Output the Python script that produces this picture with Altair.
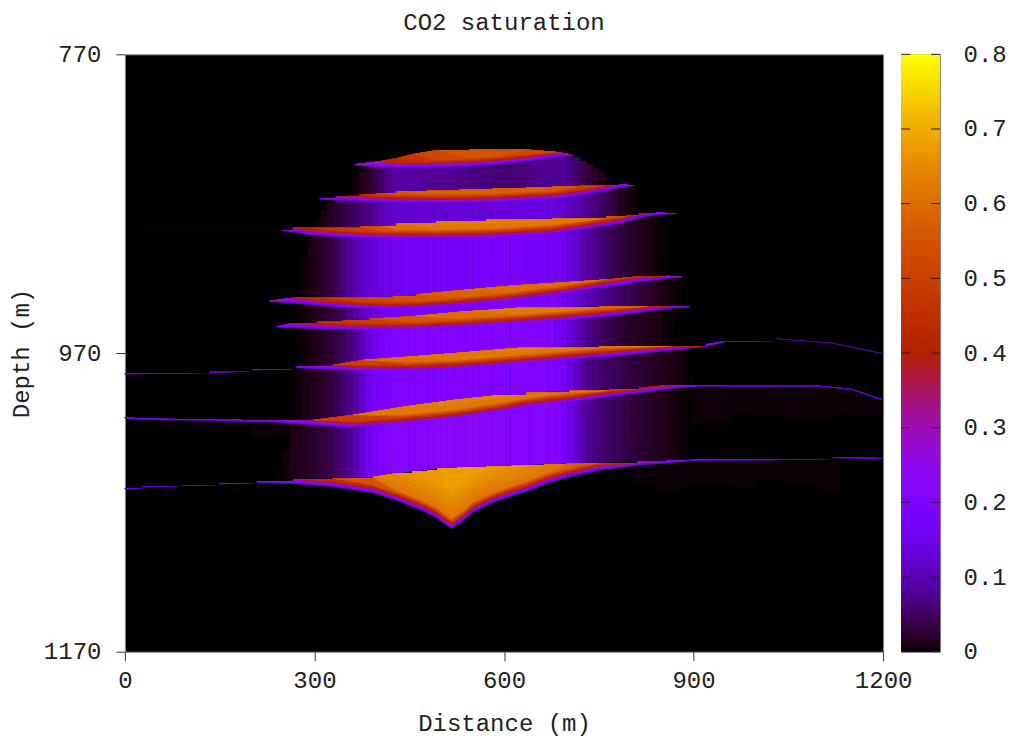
import numpy as np
import pandas as pd
import altair as alt

FONT = "Liberation Mono"
FS = 24
TXT = "#222222"

SAT_STOPS = [0, .008, .02, .04, .08, .12, .16, .2, .24, .28, .32, .36, .4, .48, .56, .64, .72, .8]
SAT_COLORS = ["#000000", "#1A0010", "#280028", "#39004F", "#510096", "#6301CE", "#7202F3", "#8004FF",
              "#8C07F3", "#970BCE", "#A11096", "#AB174F", "#B42000", "#C63700", "#D55700", "#E48300",
              "#F2BA00", "#FFFF00"]

# Each sheet of CO2: distance, top depth, bottom depth, peak saturation
L1 = dict(x=[364, 403, 430, 455, 493, 545, 593, 640, 688, 708],
          top=[843.6, 841.6, 839.6, 836.9, 834.2, 833.9, 833.6, 833.9, 835.6, 837.2],
          bot=[844.3, 845.9, 846.3, 846.3, 845.9, 845.3, 843.9, 841.9, 838.9, 837.6],
          peak=[.26, .3, .42, .47, .52, .55, .55, .52, .4, .25])
L2 = dict(x=[308, 335, 372, 398, 430, 477, 530, 582, 636, 677, 719, 762, 783, 806],
          top=[866.5, 864.8, 863.7, 863, 861.9, 861.3, 860.3, 859.8, 859, 858.3, 858, 857.6, 857.2, 857.6],
          bot=[867, 868, 868.8, 869.3, 869.7, 869.9, 869.9, 869.5, 868.3, 867.5, 865, 861.7, 859.6, 858],
          peak=[.25, .3, .38, .48, .55, .58, .58, .58, .58, .57, .5, .42, .3, .25])
L3 = dict(x=[250, 266, 292, 335, 372, 403, 430, 493, 572, 677, 762, 794, 814, 841, 873],
          top=[887.7, 886.2, 886.2, 886.2, 885.4, 884.9, 883.3, 881.7, 880.6, 879.7, 878.8, 877.7, 876.6, 875.9, 876.6],
          bot=[888.2, 889.1, 891.1, 892.4, 893.3, 893.8, 893.9, 894.1, 893.6, 891, 885.4, 882.2, 879.7, 877.4, 876.9],
          peak=[.25, .3, .4, .47, .5, .55, .6, .63, .66, .66, .58, .5, .4, .3, .25])
L4 = dict(x=[229, 266, 319, 372, 424, 462, 530, 604, 683, 762, 819, 857, 881],
          top=[935, 933, 933, 933, 931.9, 930.6, 927.9, 925.1, 923, 920.7, 918.5, 918.3, 919],
          bot=[935.6, 936.9, 939, 940.6, 941.3, 940.9, 939, 936.2, 931.9, 926.2, 922.3, 920.2, 919.3],
          peak=[.25, .3, .43, .5, .53, .55, .58, .6, .6, .58, .45, .3, .25])
L5 = dict(x=[240, 261, 304, 345, 387, 455, 530, 624, 688, 751, 830, 862, 893],
          top=[952.3, 950.2, 949.1, 948, 947.1, 945.3, 942.4, 939.7, 939.3, 938.9, 938.6, 938.6, 939.1],
          bot=[952.6, 953.4, 954, 954.6, 955.1, 955, 953.6, 951, 949, 946.6, 942.3, 940.3, 939.3],
          peak=[.25, .3, .42, .47, .5, .55, .6, .63, .63, .6, .45, .3, .25])
L6 = dict(x=[0, 134, 202, 272, 329, 376, 446, 519, 625, 751, 866, 920, 952, 1031, 1119, 1198],
          top=[983.6, 982.5, 980.9, 979.2, 978.1, 974.7, 972.5, 970.2, 966.5, 965.3, 965.3, 964.2, 962, 960.2, 963.1, 970],
          bot=[984.4, 983.4, 981.7, 980.1, 981.4, 982.7, 982.7, 981.7, 978.1, 973.4, 968.4, 965.7, 962.7, 960.8, 963.7, 970.7],
          peak=[.18, .18, .2, .25, .3, .5, .6, .62, .65, .62, .45, .3, .15, .1, .1, .1])
L7 = dict(x=[0, 35, 139, 240, 297, 360, 440, 519, 593, 636, 704, 767, 814, 862, 909, 961, 1099, 1151, 1198],
          top=[1013, 1014, 1014.4, 1015.3, 1014.9, 1011.5, 1006, 1001.5, 998.1, 996.6, 995.3, 994.1, 993.2, 991.4, 991.6, 991.9, 991.9, 994.1, 1001],
          bot=[1013.8, 1014.9, 1015.4, 1016.5, 1018.5, 1020.5, 1018.2, 1014.9, 1010.2, 1006.8, 1003.5, 999.8, 996.8, 994.1, 992.4, 992.5, 992.5, 994.8, 1001.7],
          peak=[.22, .22, .22, .25, .32, .5, .62, .68, .68, .66, .62, .55, .5, .42, .25, .2, .18, .18, .18])
L8 = dict(x=[0, 28, 90, 150, 209, 266, 329, 392, 430, 455, 479, 495, 507, 517, 526, 535, 550, 572, 588, 612, 636, 664, 699, 719, 751, 811, 857, 893, 1015, 1119, 1198],
          top=[1060.6, 1059, 1058.3, 1057.2, 1055.7, 1054.5, 1053.9, 1053, 1050.5, 1049.4, 1048.3, 1047.2, 1047, 1047, 1046.9, 1046.7, 1046.5, 1046.2, 1045.8, 1045.4, 1045, 1044.5, 1044.1, 1043.8, 1043.6, 1042.3, 1041.8, 1041.1, 1041.1, 1039.8, 1040.3],
          bot=[1061.3, 1059.7, 1059, 1058, 1057, 1057.7, 1059.7, 1063.7, 1069, 1073, 1077.4, 1081, 1085, 1087.8, 1085, 1082.8, 1077, 1072.4, 1069.5, 1066, 1062.8, 1058, 1053.6, 1051.7, 1048.6, 1045.3, 1044, 1042.3, 1042, 1040.5, 1041],
          peak=[.2, .2, .2, .22, .25, .3, .45, .55, .64, .66, .67, .67, .68, .68, .68, .68, .68, .68, .67, .66, .64, .62, .58, .56, .5, .42, .3, .22, .18, .18, .18])
LAYERS = [L1, L2, L3, L4, L5, L6, L7, L8]

# Vertical saturation seen going up from a sheet's lower edge (metres above edge, saturation)
EDGE_U = [0, .5, 1.2, 2.4, 3.6, 7, 25]
EDGE_S = [.04, .12, .2, .3, .42, .62, .68]
LEVELS = [round(.06 + .01 * i, 2) for i in range(64)]
STEP_MAX = 1.8  # largest rise of a sheet's top drawn as a stair

# Outline of the plume's diffuse cloud (distance, depth at which it starts)
ENV_X = [253, 274, 281, 292, 308, 335, 383, 708, 814, 846, 870, 893, 901]
ENV_D = [1048, 934.6, 914.5, 891, 877.7, 864.3, 844.2, 837.6, 861, 874.4, 894.4, 964.7, 1048.3]

# Diffuse saturation between sheets, by 10 m column from 240 m
HAZE_X = list(range(240, 900, 10))
H1 = [0, 0, 0, 0, 0, 0, 0, 0, 0, 0, 0, 0, .005, .012, .02, .035, .05, .07, .09, .09,
      .09, .09, .085, .085, .08, .08, .08, .08, .075, .075, .07, .07, .065, .065, .06, .06, .06, .06, .065, .065, .075, .075, .08, .08,
      .08, .08, .07, .055, .04, .03, .02, .012, .005, .001, 0, 0, 0, 0, 0, 0, 0, 0, 0, 0, 0, 0]
H2 = [0, 0, 0, 0, 0, .001, .004, .009, .015, .022, .03, .04, .05, .06, .07, .085, .1, .11, .12, .12,
      .12, .12, .12, .12, .125, .125, .125, .125, .13, .13, .13, .13, .13, .13, .135, .135, .135, .135, .14, .14, .14, .14, .14, .14,
      .13, .12, .11, .1, .09, .078, .065, .052, .04, .027, .015, .009, .004, .001, 0, 0, 0, 0, 0, 0, 0, 0]
H3 = [0, 0, 0, .002, .004, .009, .015, .022, .03, .045, .06, .08, .1, .11, .125, .135, .145, .15, .155, .16,
      .165, .165, .165, .165, .175, .175, .175, .175, .18, .18, .185, .185, .185, .185, .185, .185, .185, .185, .185, .18, .18, .18, .18, .18,
      .165, .15, .135, .12, .1, .09, .075, .062, .05, .04, .032, .025, .02, .015, .01, .007, .004, .002, 0, 0, 0, 0]
H4 = [0, 0, .001, .003, .005, .01, .015, .022, .03, .04, .05, .07, .09, .11, .13, .145, .16, .17, .18, .18,
      .18, .18, .18, .185, .185, .185, .19, .19, .19, .19, .19, .19, .19, .19, .19, .19, .19, .19, .19, .19, .19, .19, .19, .19,
      .17, .155, .14, .125, .11, .1, .09, .08, .07, .062, .055, .047, .04, .032, .025, .02, .015, .01, .006, .003, 0, 0]
H5 = [0, 0, .001, .002, .004, .008, .012, .018, .025, .034, .045, .06, .08, .105, .13, .155, .18, .19, .2, .2,
      .2, .2, .2, .2, .2, .2, .2, .2, .2, .2, .2, .2, .2, .2, .2, .2, .2, .2, .2, .2, .2, .2, .2, .2,
      .17, .15, .13, .11, .09, .075, .06, .05, .04, .032, .025, .021, .018, .015, .012, .01, .008, .005, .003, .001, 0, 0]
H6 = [0, .001, .003, .005, .01, .013, .018, .024, .032, .04, .055, .07, .09, .115, .145, .17, .185, .195, .2, .2,
      .2, .2, .2, .2, .2, .2, .2, .2, .2, .2, .2, .2, .2, .2, .2, .2, .2, .2, .2, .2, .2, .2, .2, .2,
      .19, .17, .14, .115, .09, .075, .065, .057, .05, .045, .04, .035, .03, .026, .022, .018, .015, .012, .01, .007, .005, .002]
H7 = [.002, .006, .01, .013, .016, .02, .027, .033, .04, .05, .063, .078, .1, .125, .155, .18, .195, .205, .21, .212,
      .215, .215, .215, .218, .22, .22, .22, .22, .22, .22, .22, .22, .22, .22, .22, .22, .215, .215, .215, .215, .21, .21, .21, .21,
      .2, .18, .15, .12, .095, .08, .07, .06, .05, .045, .04, .035, .03, .026, .022, .018, .015, .012, .008, .005, .003, .001]
HAZES = [H1, H2, H3, H4, H5, H6, H7]

# Very faint traces beneath the sheets: from, to, top depth, bottom depth
SP_X0 = [24, 120, 200, 250, 840, 880, 920, 960, 1000, 1040, 1080, 1120, 1160, 20, 60, 170, 800, 840, 880, 920, 960, 1000, 1040, 1100]
SP_X1 = [250, 200, 250, 280, 880, 920, 960, 1000, 1040, 1080, 1120, 1160, 1200, 40, 70, 180, 840, 880, 920, 960, 1000, 1040, 1100, 1130]
SP_T = [887.5, 1015, 1016, 1017, 994, 993, 993, 993, 993, 993, 993, 995, 1001, 1061, 1060, 1058, 1046, 1045, 1044, 1043, 1042, 1042, 1042, 1041]
SP_B = [888.3, 1020, 1026, 1024, 1012, 1018, 1016, 1011, 1012, 1014, 1014, 1011, 1012, 1066, 1066, 1063, 1058, 1062, 1056, 1058, 1060, 1054, 1058, 1062]
SP_S = [.004, .003, .004, .003, .003, .004, .004, .003, .003, .004, .003, .003, .003, .003, .003, .003, .003, .003, .003, .003, .003, .003, .003, .003]

BAR_TICKS = [0, .1, .2, .3, .4, .5, .6, .7, .8]
X_TICKS = [0, 300, 600, 900, 1200]
Y_TICKS = [770, 970, 1170]

# ---- tables
rows = []
for li, L in enumerate(LAYERS):
    H = HAZES[li] if li < len(HAZES) else [0] * len(HAZE_X)
    # a gently rising top edge is stepped: it holds its depth until the next reading
    sx, st, sb, sp = [], [], [], []
    for i, x in enumerate(L["x"]):
        if i > 0 and 0 < L["top"][i - 1] - L["top"][i] <= STEP_MAX:
            sx.append(x); st.append(L["top"][i - 1]); sb.append(L["bot"][i]); sp.append(L["peak"][i])
        sx.append(x); st.append(L["top"][i]); sb.append(L["bot"][i]); sp.append(L["peak"][i])
    for lv in LEVELS:
        for x, t, b, p in zip(sx, st, sb, sp):
            h = float(np.interp(x, [v + 5 for v in HAZE_X], H, left=0, right=0))
            if lv > p or lv < h:
                d = t
            else:
                T = b - t
                up = float(np.interp(p, EDGE_S, EDGE_U))
                scale = min(1.0, T / max(min(up, 4.0), 1e-6))
                d = max(t, b - float(np.interp(lv, EDGE_S, EDGE_U)) * scale)
            rows.append(dict(key=f"{li:02d}_{lv:.2f}", x=x, top=t, depth=d, s=lv))
sheet_df = pd.DataFrame(rows)

hz = []
for a, b, t, bo, s in zip(SP_X0, SP_X1, SP_T, SP_B, SP_S):
    hz.append(dict(x0=a, x1=b, d0=t, d1=bo, s=s))
for bi, H in enumerate(HAZES):
    up, lo = LAYERS[bi], LAYERS[bi + 1]
    for x, s in zip(HAZE_X, H):
        if s <= 0:
            continue
        c = x + 5
        d0 = max(float(np.interp(c, up["x"], up["top"])), float(np.interp(c, ENV_X, ENV_D)))
        d1 = float(np.interp(c, lo["x"], lo["top"]))
        if d1 > d0:
            hz.append(dict(x0=x, x1=x + 10.6, d0=d0, d1=d1, s=s))
haze_df = pd.DataFrame(hz)

color = alt.Color("s:Q", scale=alt.Scale(domain=SAT_STOPS, range=SAT_COLORS, interpolate="rgb", clamp=True), legend=None)
xs = alt.Scale(domain=[0, 1200], nice=False, zero=False)
ys = alt.Scale(domain=[770, 1170], reverse=True, nice=False, zero=False)
ax_common = dict(labelFont=FONT, labelFontSize=FS, labelColor=TXT, titleFont=FONT, titleFontSize=FS,
                 titleColor=TXT, titleFontWeight="normal", tickColor="#333333", tickSize=9, domain=False,
                 grid=False, format="d", labelFlush=False, labelOverlap=False)

haze = alt.Chart(haze_df).mark_rect(strokeWidth=0).encode(
    x=alt.X("x0:Q", scale=xs, axis=alt.Axis(values=X_TICKS, title="Distance (m)", labelPadding=8, titlePadding=19, **ax_common)),
    x2="x1:Q",
    y=alt.Y("d0:Q", scale=ys, axis=alt.Axis(values=Y_TICKS, title="Depth (m)", labelPadding=15, titlePadding=10, **ax_common)),
    y2="d1:Q",
    color=color,
)
sheets = alt.Chart(sheet_df).mark_area(interpolate="linear", strokeWidth=0).encode(
    x=alt.X("x:Q", scale=xs),
    y=alt.Y("top:Q", scale=ys),
    y2="depth:Q",
    color=color,
    detail="key:N",
)
main = alt.layer(haze, sheets).properties(
    width=759, height=598,
    title=alt.TitleParams("CO2 saturation", font=FONT, fontSize=FS, fontWeight="normal", color=TXT, anchor="middle", offset=7),
)

bar_lo = [round(i * .005, 3) for i in range(160)]
bar_df = pd.DataFrame(dict(lo=bar_lo, hi=[round(min(v + .008, .8), 3) for v in bar_lo], s=[v + .0025 for v in bar_lo]))
bs = alt.Scale(domain=[0, .8], nice=False, zero=False)
bar = alt.Chart(bar_df).mark_rect(strokeWidth=0).encode(
    x=alt.value(0), x2=alt.value(39),
    y=alt.Y("lo:Q", scale=bs, axis=alt.Axis(values=BAR_TICKS, format="~g", title=None, orient="right", labelFont=FONT,
                                            labelFontSize=FS, labelColor=TXT, labelPadding=23, tickSize=0, domain=False,
                                            grid=False, labelFlush=False, labelOverlap=False)),
    y2="hi:Q",
    color=color,
)
tick_df = pd.DataFrame(dict(t=BAR_TICKS))
t_left = alt.Chart(tick_df).mark_rule(color="#222222").encode(x=alt.value(0), x2=alt.value(9), y=alt.Y("t:Q", scale=bs))
t_right = alt.Chart(tick_df).mark_rule(color="#222222").encode(x=alt.value(30), x2=alt.value(39), y=alt.Y("t:Q", scale=bs))
cbar = alt.layer(bar, t_left, t_right).properties(
    width=39, height=598,
    title=alt.TitleParams(" ", font=FONT, fontSize=FS, fontWeight="normal", offset=7),
)

chart = alt.hconcat(main, cbar, spacing=18, padding={"left": 0, "top": 2, "right": 0, "bottom": 0},
                    background="white", bounds="flush").configure_view(fill="#000000", stroke="#8a8a8a")
chart.save("out.html", embed_options={"renderer": "svg", "actions": False})
